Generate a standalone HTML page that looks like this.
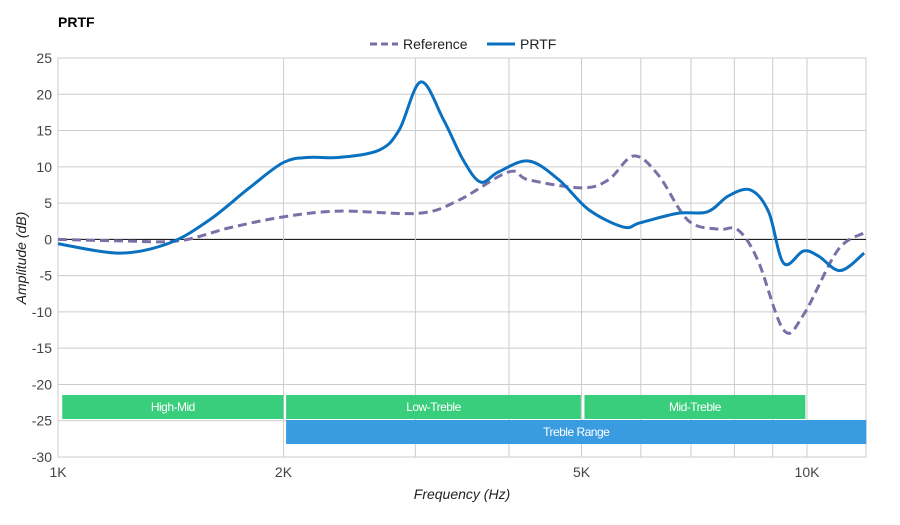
<!DOCTYPE html>
<html><head><meta charset="utf-8"><style>
body{margin:0;background:#fff;font-family:"Liberation Sans",sans-serif}
svg text{font-family:"Liberation Sans",sans-serif}
</style></head><body>
<svg id="c" width="900" height="520"></svg>
<script>
const refFreq=[1000,1209,1450,1695,2000,2375,3035,3428,3997,4250,5000,5430,5868,6328,6940,7616,8090,8599,9308,9893,10990,11920];
const refDb=[0,-0.2,-0.2,1.6,3.1,3.9,3.6,5.4,9.3,8.2,7.1,8.2,11.5,8.9,2.6,1.4,1.3,-2.9,-12.5,-10.4,-1.5,0.9];
const prtfFreq=[1000,1209,1409,1594,1801,2000,2165,2375,2684,2855,3050,3271,3477,3666,3875,4250,4665,5110,5686,5993,6727,7367,7858,8409,8886,9308,9893,10360,11080,11920];
const prtfDb=[-0.6,-1.9,-0.5,2.7,7.1,10.6,11.3,11.3,12.3,15.1,21.7,16.5,10.9,7.9,9.3,10.8,8.2,4.1,1.7,2.3,3.6,3.8,6.0,6.8,3.8,-3.3,-1.6,-2.3,-4.3,-1.9];
const yTicks=[25,20,15,10,5,0,-5,-10,-15,-20,-25,-30];
const xGrid=[1000,2000,3000,4000,5000,6000,7000,8000,9000,10000];
const xLabels=[[1000,"1K"],[2000,"2K"],[5000,"5K"],[10000,"10K"]];
const bandNames=["High-Mid","Low-Treble","Mid-Treble","Treble Range"];
const bandFrom=[1010,2010,5030,2010];
const bandTo=[2000,4990,9950,12000];
const bandRow=[0,0,0,1];

const L=58,R=866,T=58,B=457;
const X=f=>L+Math.log10(f/1000)*749;
const Y=v=>T+(25-v)*(B-T)/55;
const svg=document.getElementById('c');const NS="http://www.w3.org/2000/svg";
function mk(t,a,p){const e=document.createElementNS(NS,t);for(const k in a)e.setAttribute(k,a[k]);(p||svg).appendChild(e);return e;}
let e;
e=mk('text',{x:58,y:27,'font-size':14,'font-weight':'bold',fill:'#000'});e.textContent='PRTF';


e=mk('rect',{x:L,y:T,width:R-L,height:B-T,fill:'none',stroke:'#ccc'});


yTicks.forEach(v=>{
 e=mk('line',{x1:L,x2:R,y1:Y(v),y2:Y(v),stroke:v===0?'#000':'#ccc','stroke-width':1});
 
 
 e=mk('text',{x:52,y:Y(v)+5,'text-anchor':'end','font-size':14,fill:'#444'});e.textContent=v;
 
 
});
xGrid.forEach(f=>{
 e=mk('line',{x1:X(f),x2:X(f),y1:T,y2:B,stroke:'#ccc'});
 
 
});
xLabels.forEach(([f,s])=>{
 e=mk('text',{x:X(f),y:477,'text-anchor':'middle','font-size':14,fill:'#444'});e.textContent=s;
 
 
});
bandNames.forEach((n,i)=>{
 const y=bandRow[i]?420:395, col=bandRow[i]?'#3399e0':'#33cc77';
 const x1=X(bandFrom[i])+1,x2=Math.min(X(bandTo[i]),R+1);
 const g=mk('g',{});
 
 
 mk('rect',{x:x1,y:y,width:x2-x1,height:24,fill:col,opacity:0.97},g);
 const t=mk('text',{x:(x1+x2)/2,y:y+16,'text-anchor':'middle','font-size':12,fill:'#fff','letter-spacing':'-0.5'},g);t.textContent=n;
});
function path(fs,vs){
 const p=fs.map((f,i)=>[X(f),Y(vs[i])]);let d='M'+p[0][0]+','+p[0][1];
 for(let i=0;i<p.length-1;i++){const p0=p[i-1]||p[i],p1=p[i],p2=p[i+1],p3=p[i+2]||p2;
  d+=` C${p1[0]+(p2[0]-p0[0])/6},${p1[1]+(p2[1]-p0[1])/6} ${p2[0]-(p3[0]-p1[0])/6},${p2[1]-(p3[1]-p1[1])/6} ${p2[0]},${p2[1]}`;}
 return d;}
e=mk('path',{d:path(refFreq,refDb),fill:'none',stroke:'#7a70a8','stroke-width':3,'stroke-dasharray':'9,5'});


e=mk('path',{d:path(prtfFreq,prtfDb),fill:'none',stroke:'#0a70c0','stroke-width':3});


e=mk('g',{});


mk('line',{x1:370,x2:398,y1:44,y2:44,stroke:'#7a70a8','stroke-width':3,'stroke-dasharray':'7,4'},e);
let t=mk('text',{x:403,y:49,'font-size':14,fill:'#222'},e);t.textContent='Reference';
mk('line',{x1:487,x2:515,y1:44,y2:44,stroke:'#0a70c0','stroke-width':3},e);
t=mk('text',{x:520,y:49,'font-size':14,fill:'#222'},e);t.textContent='PRTF';
e=mk('text',{x:462,y:499,'text-anchor':'middle','font-size':14,'font-style':'italic',fill:'#222'});e.textContent='Frequency (Hz)';


e=mk('text',{x:0,y:0,'text-anchor':'middle','font-size':14,'font-style':'italic',fill:'#222',transform:'translate(26,258) rotate(-90)'});e.textContent='Amplitude (dB)';


</script>
</body></html>
